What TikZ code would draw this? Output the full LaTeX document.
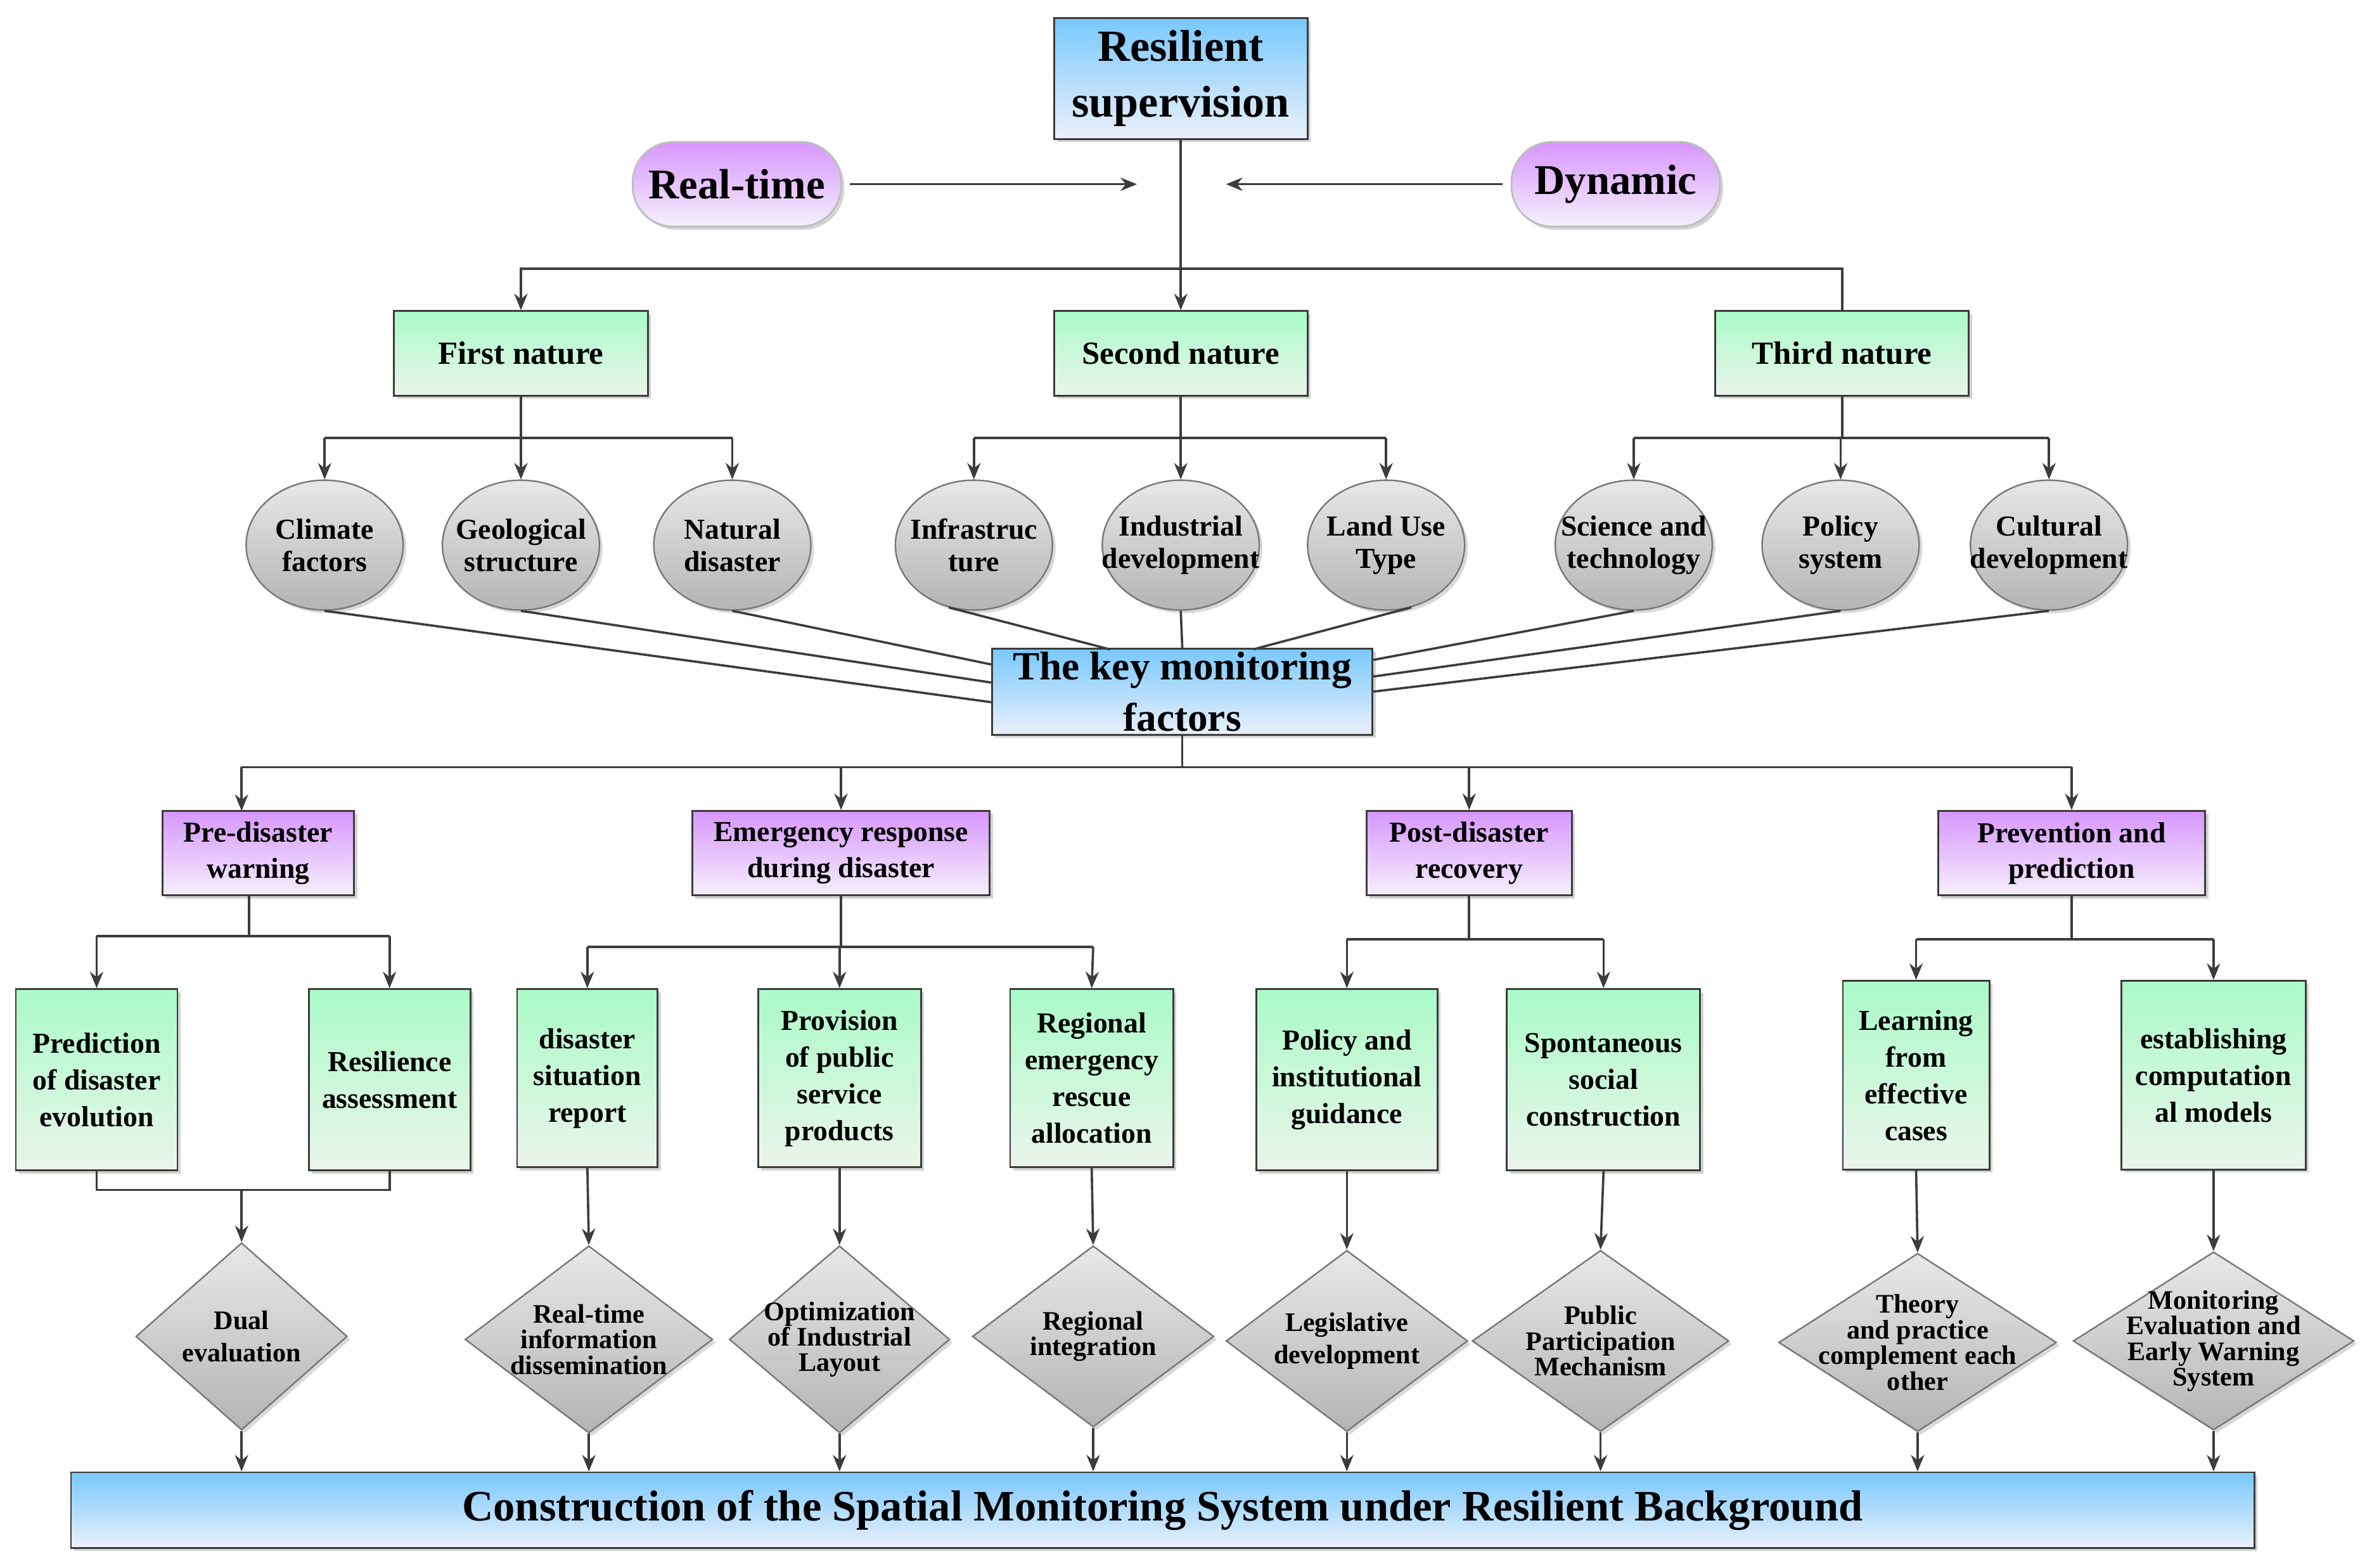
\documentclass[tikz,border=0pt]{standalone}
\usepackage{fontspec}
\setmainfont{Liberation Serif}
\usetikzlibrary{shapes.geometric,arrows.meta,shadows}
\newlength\pu \setlength\pu{0.2383mm}
\definecolor{lc}{RGB}{60,60,60}
\begin{document}
\begin{tikzpicture}[x=\pu,y=-\pu,
 every node/.style={font=\bfseries, align=center, inner sep=0pt},
 bx/.style={draw=lc, line width=0.29mm, drop shadow={shadow xshift=0.5mm,shadow yshift=-0.5mm,opacity=.35}},
 blue/.style={bx, top color={rgb,255:red,120;green,200;blue,255}, bottom color={rgb,255:red,235;green,240;blue,250}},
 green/.style={bx, top color={rgb,255:red,170;green,250;blue,200}, bottom color={rgb,255:red,235;green,245;blue,235}},
 purp/.style={bx, top color={rgb,255:red,215;green,150;blue,255}, bottom color={rgb,255:red,245;green,240;blue,250}},
 pill/.style={purp, rounded corners=6.4mm, draw={rgb,255:red,190;green,190;blue,190}, minimum width=138\pu, minimum height=56\pu, font=\fontsize{19}{21}\bfseries},
 ell/.style={ellipse, draw={rgb,255:red,120;green,120;blue,120}, line width=0.24mm, top color={rgb,255:red,232;green,232;blue,232}, bottom color={rgb,255:red,180;green,180;blue,180}, minimum width=104\pu, minimum height=86\pu, drop shadow={shadow xshift=0.5mm,shadow yshift=-0.5mm,opacity=.3}},
 dia/.style={diamond, draw={rgb,255:red,120;green,120;blue,120}, line width=0.24mm, top color={rgb,255:red,232;green,232;blue,232}, bottom color={rgb,255:red,180;green,180;blue,180}, drop shadow={shadow xshift=0.5mm,shadow yshift=-0.5mm,opacity=.3}},
 ltx/.style={font=\fontsize{13}{14.5}\bfseries},
 dtx/.style={font=\fontsize{12}{11.5}\bfseries},
 nat/.style={green, minimum width=168\pu, minimum height=56\pu, font=\fontsize{14.5}{16}\bfseries},
 pb/.style={purp, minimum height=56\pu, font=\fontsize{13}{16}\bfseries},
 gb/.style={green, font=\fontsize{13}{16.5}\bfseries},
 ar/.style={draw=lc, line width=0.36mm, -{Stealth[length=2.6mm,width=2.1mm]}},
 ln/.style={draw=lc, line width=0.36mm}]
\useasboundingbox (0,0) rectangle (1563,1038);

% top
\node[blue, minimum width=168\pu, minimum height=80\pu, font=\fontsize{20}{25}\bfseries] (rs) at (782,52) {Resilient\\supervision};
\node[pill] (rt) at (488,122) {Real-time};
\node[pill] (dy) at (1070,122) {Dynamic};
\coordinate (rtE) at (753,122); \coordinate (dyE) at (812,122);
\coordinate (rtS) at (563,122); \coordinate (dyS) at (995,122);
\draw[ar] (rtS) -- (rtE);
\draw[ar] (dyS) -- (dyE);

\node[nat] (n1) at (345,234) {First nature};
\node[nat] (n2) at (782,234) {Second nature};
\node[nat] (n3) at (1220,234) {Third nature};
\draw[ar] (rs.south) -- (n2.north);
\draw[ar] (n3.north) |- (782,178) -| (n1.north);

% ellipses
\foreach \n/\x/\t in {c1/215/Climate\\factors, c2/345/Geological\\structure, c3/485/Natural\\disaster, c4/645/Infrastruc\\ture, c5/782/Industrial\\development, c6/918/Land Use\\Type, c7/1082/Science and\\technology, c8/1219/Policy\\system, c9/1357/Cultural\\development}
  \node[ell, label={[ltx]center:\t}] (\n) at (\x,361) {};
\foreach \p/\a/\b/\c in {n1/c1/c2/c3, n2/c4/c5/c6, n3/c7/c8/c9}{
  \draw[ln] (\p.south) -- (\p.south |- 0,290);
  \draw[ar] (\a.north |- 0,290) -- (\a.north);
  \draw[ar] (\b.north |- 0,290) -- (\b.north);
  \draw[ar] (\c.north |- 0,290) -- (\c.north);
  \draw[ln] (\a.north |- 0,290) -- (\c.north |- 0,290);
}

\node[blue, minimum width=252\pu, minimum height=57\pu, font=\fontsize{18}{23}\bfseries] (key) at (783,458) {The key monitoring\\factors};
\draw[ln] (c1.south) -- (key.west |- 0,465);
\draw[ln] (c2.south) -- (key.west |- 0,452);
\draw[ln] (c3.south) -- (key.west |- 0,440);
\draw[ln] (c4.-112) -- (735,430);
\draw[ln] (c5.south) -- (key.north);
\draw[ln] (c6.-68) -- (830,430);
\draw[ln] (c7.south) -- (key.east |- 0,437);
\draw[ln] (c8.south) -- (key.east |- 0,448);
\draw[ln] (c9.south) -- (key.east |- 0,458);

% phases
\node[pb, minimum width=127\pu] (p1) at (171,565) {Pre-disaster\\warning};
\node[pb, minimum width=197\pu] (p2) at (557,565) {Emergency response\\during disaster};
\node[pb, minimum width=136\pu] (p3) at (973,565) {Post-disaster\\recovery};
\node[pb, minimum width=177\pu] (p4) at (1372,565) {Prevention and\\prediction};
\draw[ln] (key.south) -- (783,508);
\draw[ln] (160,508) -- (1372,508);
\draw[ar] (160,508) -- (160,537);
\draw[ar] (p2.north |- 0,508) -- (p2.north);
\draw[ar] (p3.north |- 0,508) -- (p3.north);
\draw[ar] (p4.north |- 0,508) -- (p4.north);

% green boxes
\node[gb, minimum width=107\pu, minimum height=120\pu] (g1) at (64,715) {Prediction\\of disaster\\evolution};
\node[gb, minimum width=107\pu, minimum height=120\pu] (g2) at (258,715) {Resilience\\assessment};
\node[gb, minimum width=93\pu, minimum height=118\pu] (g3) at (389,714) {disaster\\situation\\report};
\node[gb, minimum width=108\pu, minimum height=118\pu] (g4) at (556,714) {Provision\\of public\\service\\products};
\node[gb, minimum width=108\pu, minimum height=118\pu] (g5) at (723,714) {Regional\\emergency\\rescue\\allocation};
\node[gb, minimum width=120\pu, minimum height=120\pu] (g6) at (892,715) {Policy and\\institutional\\guidance};
\node[gb, minimum width=128\pu, minimum height=120\pu] (g7) at (1062,715) {Spontaneous\\social\\construction};
\node[gb, minimum width=97\pu, minimum height=125\pu] (g8) at (1269,712) {Learning\\from\\effective\\cases};
\node[gb, minimum width=122\pu, minimum height=125\pu] (g9) at (1466,712) {establishing\\computation\\al models};

\draw[ln] (165,593) -- (165,620);
\draw[ln] (g1.north |- 0,620) -- (g2.north |- 0,620);
\draw[ar] (g1.north |- 0,620) -- (g1.north);
\draw[ar] (g2.north |- 0,620) -- (g2.north);
\draw[ln] (p2.south) -- (557,627);
\draw[ln] (g3.north |- 0,627) -- (724,627);
\draw[ar] (g3.north |- 0,627) -- (g3.north);
\draw[ar] (g4.north |- 0,627) -- (g4.north);
\draw[ar] (724,627) -- (g5.north);
\draw[ln] (p3.south) -- (p3.south |- 0,622);
\draw[ln] (g6.north |- 0,622) -- (g7.north |- 0,622);
\draw[ar] (g6.north |- 0,622) -- (g6.north);
\draw[ar] (g7.north |- 0,622) -- (g7.north);
\draw[ln] (p4.south) -- (p4.south |- 0,622);
\draw[ln] (g8.north |- 0,622) -- (g9.north |- 0,622);
\draw[ar] (g8.north |- 0,622) -- (g8.north);
\draw[ar] (g9.north |- 0,622) -- (g9.north);

% diamonds
\node[dia, minimum width=140\pu, minimum height=124\pu, label={[dtx]center:Dual\\[3pt]evaluation}] (d1) at (160,885) {};
\node[dia, minimum width=164\pu, minimum height=124\pu, label={[dtx]center:Real-time\\information\\dissemination}] (d2) at (390,887) {};
\node[dia, minimum width=146\pu, minimum height=124\pu, label={[dtx]center:Optimization\\of Industrial\\Layout}] (d3) at (556,887) {};
\node[dia, minimum width=160\pu, minimum height=120\pu, label={[dtx]center:Regional\\integration}] (d4) at (724,885) {};
\node[dia, minimum width=160\pu, minimum height=120\pu, label={[dtx]center:Legislative\\[3pt]development}] (d5) at (892,888) {};
\node[dia, minimum width=170\pu, minimum height=120\pu, label={[dtx]center:Public\\Participation\\Mechanism}] (d6) at (1060,888) {};
\node[dia, minimum width=184\pu, minimum height=118\pu, label={[dtx]center:Theory\\and practice\\complement each\\other}] (d7) at (1270,889) {};
\node[dia, minimum width=186\pu, minimum height=118\pu, label={[dtx]center:Monitoring\\Evaluation and\\Early Warning\\System}] (d8) at (1466,888) {};

\draw[ln] (g1.south) -- (g1.south |- 0,788) -- (g2.south |- 0,788) -- (g2.south);
\draw[ar] (160,788) -- (d1.north);
\draw[ar] (g3.south) -- (d2.north);
\draw[ar] (g4.south) -- (d3.north);
\draw[ar] (g5.south) -- (d4.north);
\draw[ar] (g6.south) -- (d5.north);
\draw[ar] (g7.south) -- (d6.north);
\draw[ar] (g8.south) -- (d7.north);
\draw[ar] (g9.south) -- (d8.north);

\node[blue, minimum width=1446\pu, minimum height=50\pu, font=\fontsize{19.5}{22}\bfseries] (fin) at (770,1000) {Construction of the Spatial Monitoring System under Resilient Background};
\foreach \d in {d1,d2,d3,d4,d5,d6,d7,d8}
  \draw[ar] (\d.south) -- (\d.south |- fin.north);
\end{tikzpicture}
\end{document}
